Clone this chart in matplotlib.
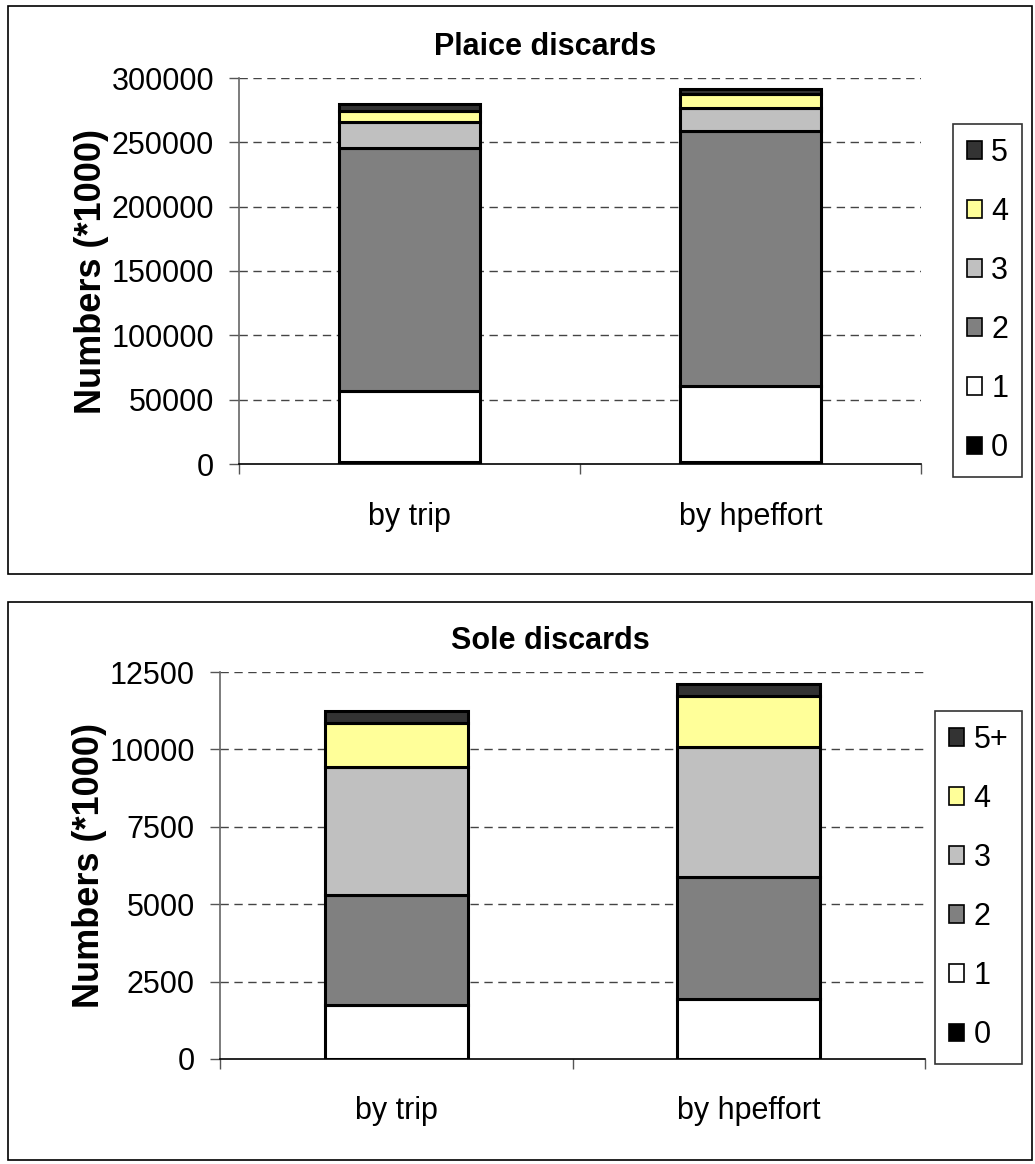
import matplotlib
matplotlib.use("Agg")
import matplotlib.pyplot as plt
from matplotlib.patches import Patch, Rectangle

plt.rcParams["font.family"] = ["Liberation Sans", "DejaVu Sans"]

# stacked discard numbers (*1000) by age class, two raising methods
methods = ["by trip", "by hpeffort"]
ages_plaice = ["0", "1", "2", "3", "4", "5"]
ages_sole = ["0", "1", "2", "3", "4", "5+"]
plaice = {
    "0": [1500, 1500],
    "1": [55400, 59500],
    "2": [188400, 197700],
    "3": [20400, 18300],
    "4": [8500, 10800],
    "5": [5900, 3600],
}
sole = {
    "0": [10, 10],
    "1": [1725, 1919],
    "2": [3567, 3944],
    "3": [4116, 4202],
    "4": [1444, 1660],
    "5+": [377, 377],
}
plaice_ticks = [0, 50000, 100000, 150000, 200000, 250000, 300000]
sole_ticks = [0, 2500, 5000, 7500, 10000, 12500]

age_colors = ["#000000", "#FFFFFF", "#808080", "#C0C0C0", "#FFFF99", "#333333"]

W, H = 1035, 1164
fig = plt.figure(figsize=(W / 100, H / 100), dpi=100)


def px_box(x0, y0, x1, y1):
    # pixel box (top-left origin) -> figure fraction [left, bottom, width, height]
    return [x0 / W, 1 - y1 / H, (x1 - x0) / W, (y1 - y0) / H]


def draw_panel(box, title, title_x, ages, data, ticks, bar_width, ylabel_x, legend_box):
    ax = fig.add_axes(px_box(*box))
    x = [0.5, 1.5]
    bottom = [0.0, 0.0]
    handles = []
    for age, color in zip(ages, age_colors):
        vals = data[age]
        ax.bar(x, vals, bar_width, bottom=bottom, color=color,
               edgecolor="black", linewidth=2.2, zorder=3)
        bottom = [b + v for b, v in zip(bottom, vals)]
        handles.append(Patch(facecolor=color, edgecolor="black", linewidth=1.2, label=age))

    ax.set_xlim(0, 2)
    ax.set_ylim(ticks[0], ticks[-1])
    ax.set_yticks(ticks)
    ax.set_yticklabels([str(t) for t in ticks])
    ax.set_xticks([0, 1, 2])
    ax.set_xticklabels([])
    ax.set_xticks(x, minor=True)
    ax.set_xticklabels(methods, minor=True)
    ax.tick_params(axis="x", which="minor", length=0, pad=27, labelsize=22)
    ax.tick_params(axis="x", which="major", length=7, width=1, color="#555555")
    ax.tick_params(axis="y", length=7, width=1, pad=11, labelsize=22, color="#555555")

    for t in ticks[1:]:
        ax.axhline(t, color="#444444", linewidth=1, linestyle=(0, (6, 4)), zorder=1)

    for side in ("top", "right"):
        ax.spines[side].set_visible(False)
    ax.spines["left"].set_color("#666666")
    ax.spines["bottom"].set_color("black")
    ax.spines["left"].set_linewidth(1.2)
    ax.spines["bottom"].set_linewidth(1.2)

    top_px = box[1]
    fig.text(title_x / W, 1 - (top_px - 31) / H, title, fontsize=22, fontweight="bold",
             ha="center", va="center")
    ax.set_ylabel("Numbers (*1000)", fontsize=26, fontweight="bold")
    ax.yaxis.set_label_coords(ylabel_x, 0.5)

    lx0, ly0, lx1, ly1 = legend_box
    leg = fig.legend(handles=handles[::-1], loc="center",
                     bbox_to_anchor=((lx0 + lx1) / 2 / W, 1 - (ly0 + ly1) / 2 / H),
                     fontsize=22, frameon=True, fancybox=False, shadow=False,
                     handlelength=0.5, handleheight=0.5, handletextpad=0.3,
                     labelspacing=0.95, borderpad=0.45, borderaxespad=0)
    leg.get_frame().set_edgecolor("black")
    leg.get_frame().set_linewidth(1.2)
    return ax


# panel frames
for (x0, y0, x1, y1) in [(8, 6, 1032, 574), (8, 602, 1032, 1160)]:
    fig.patches.append(Rectangle((x0 / W, 1 - y1 / H), (x1 - x0) / W, (y1 - y0) / H,
                                 transform=fig.transFigure, fill=False,
                                 edgecolor="black", linewidth=1.2))

draw_panel((239, 78, 921, 464), "Plaice discards", 545, ages_plaice, plaice, plaice_ticks,
           0.413, -0.19, (953, 131, 1022, 470))
draw_panel((220, 672, 925, 1059), "Sole discards", 550, ages_sole, sole, sole_ticks,
           0.405, -0.16, (935, 712, 1022, 1063))

fig.savefig("out.png", dpi=100)
